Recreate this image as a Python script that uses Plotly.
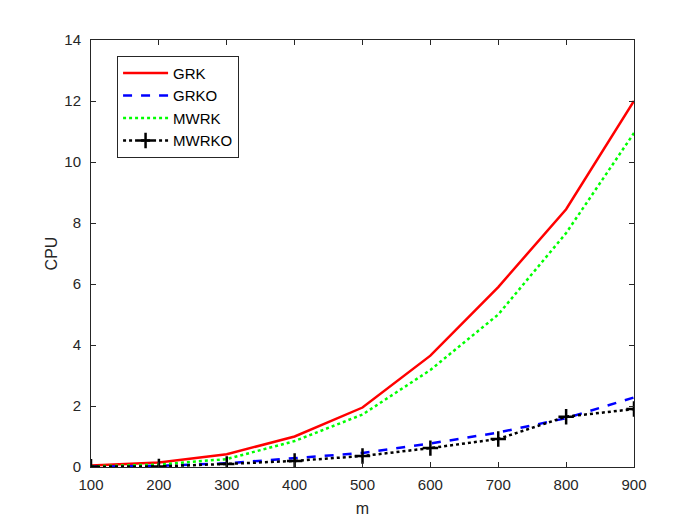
import plotly.graph_objects as go

# données
m = [100, 200, 300, 400, 500, 600, 700, 800, 900]
grk = [0.05, 0.15, 0.42, 1.0, 1.95, 3.65, 5.9, 8.45, 12.0]
grko = [0.01, 0.04, 0.12, 0.28, 0.46, 0.77, 1.13, 1.6, 2.28]
mwrk = [0.02, 0.08, 0.26, 0.85, 1.72, 3.18, 5.0, 7.67, 10.95]
mwrko = [0.01, 0.02, 0.1, 0.2, 0.36, 0.62, 0.92, 1.65, 1.9]

fig = go.Figure()
fig.add_trace(go.Scatter(x=m, y=grk, name="GRK", mode="lines",
                         line=dict(color="#ff0000", width=2.5)))
fig.add_trace(go.Scatter(x=m, y=grko, name="GRKO", mode="lines",
                         line=dict(color="#0000ff", width=2.5, dash="dash")))
fig.add_trace(go.Scatter(x=m, y=mwrk, name="MWRK", mode="lines",
                         line=dict(color="#00ff00", width=2.5, dash="dot")))
fig.add_trace(go.Scatter(x=m, y=mwrko, name="MWRKO", mode="lines+markers",
                         line=dict(color="#000000", width=2.5, dash="dot"),
                         marker=dict(symbol="cross-thin", size=11,
                                     line=dict(color="#000000", width=2.5))))

axe = dict(showgrid=False, zeroline=False, showline=True, linecolor="#262626",
           linewidth=1, mirror="ticks", ticks="inside", ticklen=5,
           tickcolor="#262626", tickfont=dict(size=15, color="#262626"))

fig.update_layout(
    width=700, height=525,
    paper_bgcolor="white", plot_bgcolor="white",
    font=dict(family="Liberation Sans, Arial", color="#262626"),
    margin=dict(l=83, r=74, t=32, b=66),
    xaxis=dict(axe, range=[100, 900], tickvals=m, ticklabelstandoff=4,
               title=dict(text="m", font=dict(size=16), standoff=10)),
    yaxis=dict(axe, range=[0, 14], tickvals=list(range(0, 15, 2)),
               ticklabelstandoff=6,
               title=dict(text="CPU", font=dict(size=16), standoff=2)),
    legend=dict(x=0.048, y=0.963, xanchor="left", yanchor="top",
                bgcolor="white", bordercolor="#262626", borderwidth=1,
                font=dict(size=15, color="#000000"), tracegroupgap=0,
                itemwidth=45),
    showlegend=True,
)

fig.write_html("out.html")
